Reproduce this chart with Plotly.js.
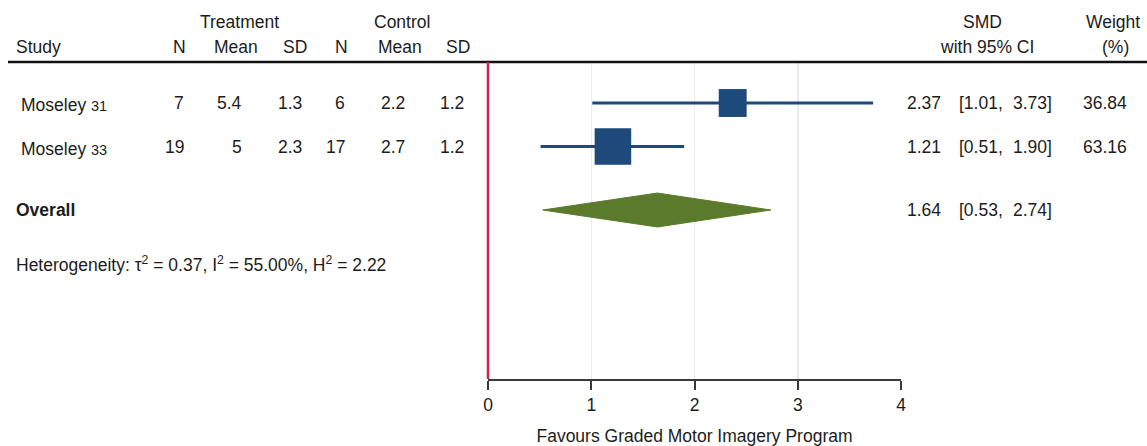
<!DOCTYPE html>
<html>
<head>
<meta charset="utf-8">
<script src="https://cdn.plot.ly/plotly-3.0.1.min.js"></script>
<style>
  html, body { margin: 0; padding: 0; background: #fff; }
  #chart { width: 1147px; height: 446px; }
</style>
</head>
<body>
<div id="chart"></div>
<script>
// ---- study data ----
const studyNames = ['Moseley', 'Moseley'];
const studyRefs = ['31', '33'];
const nTreat = [7, 19];
const meanTreat = [5.4, 5];
const sdTreat = [1.3, 2.3];
const nCtrl = [6, 17];
const meanCtrl = [2.2, 2.7];
const sdCtrl = [1.2, 1.2];
const smd = [2.37, 1.21];
const ciLow = [1.01, 0.51];
const ciHigh = [3.73, 1.90];
const weightPct = [36.84, 63.16];

// ---- pooled estimate ----
const overallSmd = 1.64;
const overallLow = 0.53;
const overallHigh = 2.74;
const tau2 = 0.37, i2 = 55.00, h2 = 2.22;

const xTicks = [0, 1, 2, 3, 4];
const xTitle = 'Favours Graded Motor Imagery Program';

// ---- layout geometry (pixels) ----
const W = 1147, H = 446;
const plotTop = 62, plotBottom = 379;
const plotLeft = 488, plotRight = 901;
const rowPx = 43.5;            // vertical spacing of one study row
const firstRowPx = 103;        // centre of first study row
const studyRows = [1, 2];
const overallRow = 3.46;
const hetRow = 4.70;

const FONT = 'Liberation Sans, Arial, sans-serif';
const FS = 17.5;
const TXT = '#1c1c1c';
const BLUE = '#1d4a7b';
const GREEN = '#5b7a2c';

const px = p => p / W;                                   // paper x from pixel
const py = p => (plotBottom - p) / (plotBottom - plotTop); // paper y from pixel
const yTop = 1 - (firstRowPx - plotTop) / rowPx;
const yBot = 1 + (plotBottom - firstRowPx) / rowPx;

const ann = [];
function txt(text, xPix, y, align, opts) {
  const o = Object.assign({
    text: text, xref: 'paper', x: px(xPix), y: y, yref: 'y',
    xanchor: align, yanchor: 'middle', showarrow: false,
    font: { family: FONT, size: FS, color: TXT }, borderpad: 0
  }, opts || {});
  ann.push(o);
}
function head(text, xPix, yPix, align) {
  txt(text, xPix, py(yPix), align, { yref: 'paper' });
}

// header
head('Treatment', 239, 22, 'center');
head('Control', 402, 22, 'center');
head('Study', 15, 47, 'left');
head('N', 179, 47, 'center');
head('Mean', 236, 47, 'center');
head('SD', 295, 47, 'center');
head('N', 341, 47, 'center');
head('Mean', 400, 47, 'center');
head('SD', 458, 47, 'center');
head('SMD', 982, 22, 'center');
head('with 95% CI', 987, 47, 'center');
head('Weight', 1113, 22, 'center');
head('(%)', 1115, 47, 'center');

// study rows
studyRows.forEach((r, i) => {
  txt(studyNames[i] + ' <span style="font-size:14.5px">' + studyRefs[i] + '</span>', 20, r + 0.05, 'left');
  txt(String(nTreat[i]), 185, r, 'right');
  txt(String(meanTreat[i]), 243, r, 'right');
  txt(String(sdTreat[i]), 303, r, 'right');
  txt(String(nCtrl[i]), 346, r, 'right');
  txt(String(meanCtrl[i]), 406, r, 'right');
  txt(String(sdCtrl[i]), 465, r, 'right');
  txt(smd[i].toFixed(2), 942, r, 'right');
  txt('[' + ciLow[i].toFixed(2) + ',', 1004, r, 'right');
  txt(ciHigh[i].toFixed(2) + ']', 1053, r, 'right');
  txt(weightPct[i].toFixed(2), 1128, r, 'right');
});

// overall row
txt('<b>Overall</b>', 15, overallRow, 'left');
txt(overallSmd.toFixed(2), 942, overallRow, 'right');
txt('[' + overallLow.toFixed(2) + ',', 1004, overallRow, 'right');
txt(overallHigh.toFixed(2) + ']', 1053, overallRow, 'right');

// heterogeneity
txt('Heterogeneity: τ<sup>2</sup> = ' + tau2.toFixed(2) + ', I<sup>2</sup> = ' + i2.toFixed(2) +
    '%, H<sup>2</sup> = ' + h2.toFixed(2), 15, hetRow, 'left');

// ---- traces ----
const traces = [];
// confidence interval whiskers
studyRows.forEach((r, i) => {
  traces.push({
    type: 'scatter', mode: 'lines', x: [ciLow[i], ciHigh[i]], y: [r, r],
    line: { color: BLUE, width: 3 }, hoverinfo: 'skip', showlegend: false
  });
});
// weighted squares
traces.push({
  type: 'scatter', mode: 'markers', x: smd, y: studyRows,
  marker: { symbol: 'square', color: BLUE, opacity: 1,
            size: weightPct.map(w => 4.6 * Math.sqrt(w)), line: { width: 0 } },
  showlegend: false
});
// pooled diamond
const dh = 0.39;
traces.push({
  type: 'scatter', mode: 'lines', fill: 'toself', fillcolor: GREEN,
  x: [overallLow, overallSmd, overallHigh, overallSmd, overallLow],
  y: [overallRow, overallRow - dh, overallRow, overallRow + dh, overallRow],
  line: { color: GREEN, width: 1 }, showlegend: false, hoverinfo: 'skip'
});

const xDomain = [px(plotLeft), px(plotRight)];

const layout = {
  width: W, height: H,
  margin: { l: 0, r: 0, t: plotTop, b: H - plotBottom, pad: 0 },
  paper_bgcolor: '#fff', plot_bgcolor: '#fff',
  showlegend: false,
  font: { family: FONT, size: FS, color: TXT },
  xaxis: {
    domain: xDomain,
    range: [0, 4], tickvals: xTicks, ticktext: xTicks.map(String),
    showgrid: true, gridcolor: '#e6ecf2', gridwidth: 1.5, zeroline: false,
    showline: true, linecolor: '#3a3a3a', linewidth: 2,
    ticks: 'outside', ticklen: 9, tickwidth: 2, tickcolor: '#3a3a3a',
    tickfont: { family: FONT, size: FS, color: TXT },
    title: { text: xTitle, font: { family: FONT, size: FS, color: TXT }, standoff: 16 },
    automargin: false, fixedrange: true
  },
  yaxis: {
    range: [yBot, yTop], visible: false, showgrid: false, zeroline: false, fixedrange: true
  },
  shapes: [
    // header rule
    { type: 'line', xref: 'paper', yref: 'paper', x0: px(8), x1: 1, y0: 1, y1: 1,
      line: { color: '#111', width: 2.5 } },
    // null-effect line at the left edge of the axis (x = 0)
    { type: 'line', xref: 'paper', yref: 'paper', x0: xDomain[0], x1: xDomain[0], y0: 0, y1: 1,
      line: { color: '#cf2347', width: 2.5 } }
  ],
  annotations: ann
};

Plotly.newPlot('chart', traces, layout, { displayModeBar: false, staticPlot: true });
</script>
</body>
</html>
